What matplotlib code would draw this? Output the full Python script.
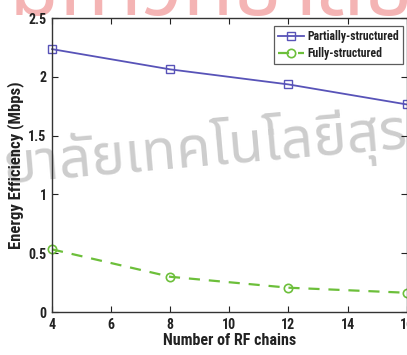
import matplotlib
matplotlib.use("Agg")
import matplotlib.pyplot as plt

rf_chains = [4, 8, 12, 16]
partially = [2.236, 2.064, 1.936, 1.766]
fully = [0.533, 0.300, 0.207, 0.164]
x_ticks = [4, 6, 8, 10, 12, 14, 16]
y_ticks = [0, 0.5, 1, 1.5, 2, 2.5]
y_tick_labels = ["0", "0.5", "1", "1.5", "2", "2.5"]
watermark = "ยาลัยเทคโนโลยีสุร"
watermark_top = "มหาวิทยาลัย"

plt.rcParams["font.family"] = ["Roboto Condensed", "DejaVu Sans"]
plt.rcParams["font.weight"] = "bold"

fig = plt.figure(figsize=(4.07, 3.55), dpi=100)
ax = fig.add_axes([0.128, 0.121, 0.871, 0.828])

fig.text(0.0, 0.485, watermark, fontsize=41, family=["Noto Sans Thai", "DejaVu Sans"],
         fontweight="bold", color="#cdcdcd", rotation=5, ha="left", va="baseline",
         zorder=-1)
fig.text(0.02, 0.958, watermark_top, fontsize=60, family=["Noto Sans Thai", "DejaVu Sans"],
         fontweight="bold", color="#f4b4b4", rotation=0, ha="left", va="baseline",
         zorder=-1)

blue = "#5853b8"
green = "#6cbf3a"
ax.plot(rf_chains, partially, color=blue, lw=1.3, marker="s", ms=5.5,
        mfc="none", mec=blue, mew=1.0, label="Partially-structured", clip_on=False)
ax.plot(rf_chains, fully, color=green, lw=1.6, ls=(0, (5, 4)), marker="o", ms=6,
        mfc="none", mec=green, mew=1.2, label="Fully-structured", clip_on=False)
ax.patch.set_alpha(0)

ax.set_xlim(4, 16)
ax.set_ylim(0, 2.5)
ax.set_xticks(x_ticks)
ax.set_yticks(y_ticks)
ax.set_yticklabels(y_tick_labels)
ax.tick_params(direction="in", top=True, right=True, length=4, width=0.8,
               labelsize=10, colors="#222222", pad=4)
for lab in ax.get_xticklabels() + ax.get_yticklabels():
    lab.set_fontweight("bold")
for s in ax.spines.values():
    s.set_linewidth(1.0)
    s.set_color("#333333")

ax.set_xlabel("Number of RF chains", fontsize=11.5, fontweight="bold", color="#222222", labelpad=1)
ax.set_ylabel("Energy Efficiency (Mbps)", fontsize=12, fontweight="bold", color="#222222", labelpad=3)

leg = ax.legend(loc="upper right", bbox_to_anchor=(0.99, 0.973), fontsize=8.5,
                frameon=True, fancybox=False, edgecolor="#333333", handlelength=2.2,
                handletextpad=0.3, borderpad=0.35, labelspacing=0.35, borderaxespad=0)
leg.get_frame().set_linewidth(0.9)
leg.get_frame().set_facecolor("white")
for t in leg.get_texts():
    t.set_fontweight("bold")
    t.set_color("#222222")

fig.savefig("out.png", dpi=100)
